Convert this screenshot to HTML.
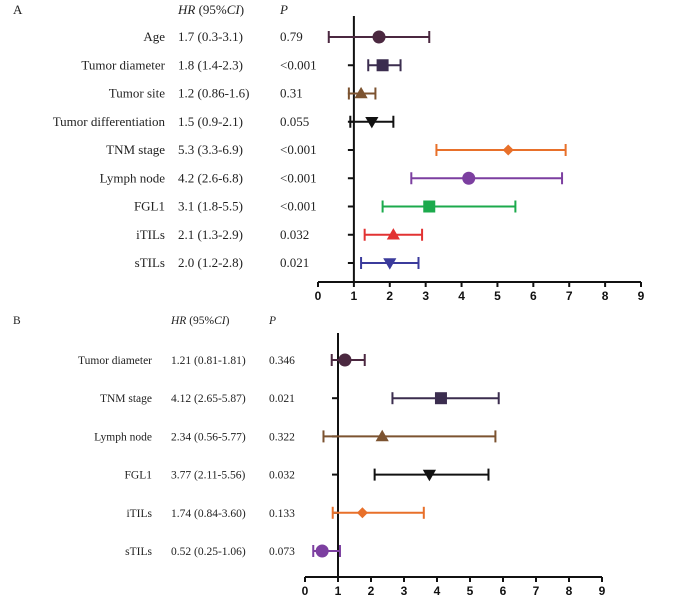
<!DOCTYPE html>
<html><head><meta charset="utf-8">
<style>
html,body{margin:0;padding:0;background:#fff;}
svg{display:block;}
text{font-family:"Liberation Serif",serif;fill:#222;}
.tick{font-family:"Liberation Sans",sans-serif;font-weight:bold;font-size:12px;fill:#111;}
</style></head>
<body>
<svg id="chart" width="700" height="598" viewBox="0 0 700 598"></svg>
<script>
// Panel A data
const catsA = ["Age","Tumor diameter","Tumor site","Tumor differentiation","TNM stage","Lymph node","FGL1","iTILs","sTILs"];
const hrA = [1.7,1.8,1.2,1.5,5.3,4.2,3.1,2.1,2.0];
const loA = [0.3,1.4,0.86,0.9,3.3,2.6,1.8,1.3,1.2];
const hiA = [3.1,2.3,1.6,2.1,6.9,6.8,5.5,2.9,2.8];
const hrTextA = ["1.7 (0.3-3.1)","1.8 (1.4-2.3)","1.2 (0.86-1.6)","1.5 (0.9-2.1)","5.3 (3.3-6.9)","4.2 (2.6-6.8)","3.1 (1.8-5.5)","2.1 (1.3-2.9)","2.0 (1.2-2.8)"];
const pA = ["0.79","<0.001","0.31","0.055","<0.001","<0.001","<0.001","0.032","0.021"];
// Panel B data
const catsB = ["Tumor diameter","TNM stage","Lymph node","FGL1","iTILs","sTILs"];
const hrB = [1.21,4.12,2.34,3.77,1.74,0.52];
const loB = [0.81,2.65,0.56,2.11,0.84,0.25];
const hiB = [1.81,5.87,5.77,5.56,3.60,1.06];
const hrTextB = ["1.21 (0.81-1.81)","4.12 (2.65-5.87)","2.34 (0.56-5.77)","3.77 (2.11-5.56)","1.74 (0.84-3.60)","0.52 (0.25-1.06)"];
const pB = ["0.346","0.021","0.322","0.032","0.133","0.073"];
const ticks = [0,1,2,3,4,5,6,7,8,9];

const styleA = [["#4b2840","circle"],["#3b2d4f","square"],["#7c5330","tri"],["#111","itri"],["#e8702a","diamond"],["#7c3fa0","circle"],["#1caa4c","square"],["#e23232","tri"],["#3b3b9c","itri"]];
const styleB = [["#4b2840","circle"],["#3b2d4f","square"],["#7c5330","tri"],["#111","itri"],["#e8702a","diamond"],["#7c3fa0","circle"]];

const svg = document.getElementById('chart');
const NS = "http://www.w3.org/2000/svg";
function mk(tag, attrs, parent){
  const e = document.createElementNS(NS, tag);
  for (const k in attrs) e.setAttribute(k, attrs[k]);
  (parent||svg).appendChild(e);
  return e;
}
function txt(s, x, y, size, anchor, parent, italic){
  const t = mk('text', {x:x, y:y, 'font-size':size, 'text-anchor':anchor||'start'}, parent);
  if (italic) t.setAttribute('font-style','italic');
  t.textContent = s;
  return t;
}
function marker(shape, cx, cy, r, color, g){
  let e;
  if (shape==="circle") e = mk('circle',{cx:cx,cy:cy,r:r,fill:color},g);
  else if (shape==="square") e = mk('rect',{x:cx-r,y:cy-r,width:2*r,height:2*r,fill:color},g);
  else if (shape==="tri") e = mk('polygon',{points:`${cx},${cy-r*1.1} ${cx-r*1.1},${cy+r*0.8} ${cx+r*1.1},${cy+r*0.8}`,fill:color},g);
  else if (shape==="itri") e = mk('polygon',{points:`${cx},${cy+r*1.1} ${cx-r*1.1},${cy-r*0.8} ${cx+r*1.1},${cy-r*0.8}`,fill:color},g);
  else e = mk('polygon',{points:`${cx},${cy-r} ${cx+r},${cy} ${cx},${cy+r} ${cx-r},${cy}`,fill:color},g);
  
  
  return e;
}

function panel(cfg){
  const g = mk('g',{});
  
  
  const xs = v => cfg.x0 + (cfg.x9 - cfg.x0) * v / 9;
  const ys = i => cfg.yFirst + i * cfg.dy;
  // panel letter and headers
  const L = txt(cfg.letter, cfg.letterX, cfg.headY, cfg.fs, 'start', g);
   
  const h1 = txt('', cfg.hrX, cfg.headY, cfg.fs, 'start', g);
   
  const s1 = mk('tspan',{'font-style':'italic'},h1); s1.textContent='HR';
  const s2 = mk('tspan',{},h1); s2.textContent=' (95%';
  const s3 = mk('tspan',{'font-style':'italic'},h1); s3.textContent='CI';
  const s4 = mk('tspan',{},h1); s4.textContent=')';
  const h2 = txt('P', cfg.pX, cfg.headY, cfg.fs, 'start', g, true);
   
  // x axis
  const ax = mk('line',{x1:xs(0),x2:xs(9),y1:cfg.axY,y2:cfg.axY,stroke:'#111','stroke-width':2},g);
   
  ticks.forEach(t=>{
    const tl = mk('line',{x1:xs(t),x2:xs(t),y1:cfg.axY,y2:cfg.axY+5,stroke:'#111','stroke-width':2},g);
     
    const tt = txt(String(t), xs(t), cfg.axY+18, 12, 'middle', g);
    tt.setAttribute('class','tick');
     
  });
  // reference line at HR=1
  const ref = mk('line',{x1:xs(1),x2:xs(1),y1:cfg.refTop,y2:cfg.axY,stroke:'#111','stroke-width':2},g);
   
  cfg.cats.forEach((c,i)=>{
    const y = ys(i);
    const lab = txt(c, cfg.labX, y+4, cfg.fs, 'end', g);
     
    const hr = txt(cfg.hrText[i], cfg.hrX, y+4, cfg.fs, 'start', g);
     
    const p = txt(cfg.p[i], cfg.pX, y+4, cfg.fs, 'start', g);
     
    const yt = mk('line',{x1:xs(1)-6,x2:xs(1),y1:y,y2:y,stroke:'#111','stroke-width':2},g);
     
    const col = cfg.style[i][0];
    const ci = mk('g',{},g);
     
    mk('line',{x1:xs(cfg.lo[i]),x2:xs(cfg.hi[i]),y1:y,y2:y,stroke:col,'stroke-width':2},ci);
    mk('line',{x1:xs(cfg.lo[i]),x2:xs(cfg.lo[i]),y1:y-6,y2:y+6,stroke:col,'stroke-width':2},ci);
    mk('line',{x1:xs(cfg.hi[i]),x2:xs(cfg.hi[i]),y1:y-6,y2:y+6,stroke:col,'stroke-width':2},ci);
    const sh = cfg.style[i][1];
    marker(sh, xs(cfg.val[i]), y, sh==="diamond"?5.5:(sh==="circle"?6.5:6), col, g);
  });
}

panel({name:'panel-a-forest-plot', letter:'A', letterX:13, headY:14, fs:13,
  labX:165, hrX:178, pX:280, x0:318, x9:641, axY:282, refTop:16, yFirst:37, dy:28.25,
  cats:catsA, val:hrA, lo:loA, hi:hiA, hrText:hrTextA, p:pA, style:styleA});
panel({name:'panel-b-forest-plot', letter:'B', letterX:13, headY:324, fs:11.5,
  labX:152, hrX:171, pX:269, x0:305, x9:602, axY:577, refTop:333, yFirst:360, dy:38.2,
  cats:catsB, val:hrB, lo:loB, hi:hiB, hrText:hrTextB, p:pB, style:styleB});
</script>
</body></html>
